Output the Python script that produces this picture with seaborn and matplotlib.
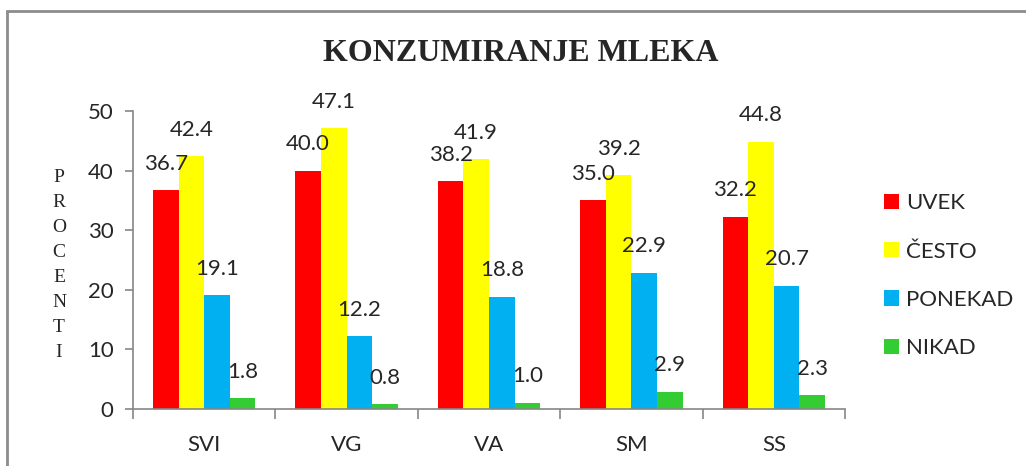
import numpy as np
import pandas as pd
import matplotlib
matplotlib.use("Agg")
import matplotlib.pyplot as plt
import seaborn as sns
from matplotlib.patches import Rectangle

# podaci
grupe = ["SVI", "VG", "VA", "SM", "SS"]
odgovori = ["UVEK", "ČESTO", "PONEKAD", "NIKAD"]
uvek = [36.7, 40.0, 38.2, 35.0, 32.2]
cesto = [42.4, 47.1, 41.9, 39.2, 44.8]
ponekad = [19.1, 12.2, 18.8, 22.9, 20.7]
nikad = [1.8, 0.8, 1.0, 2.9, 2.3]
boje = ["#FF0000", "#FFFF00", "#00B0F0", "#33CC33"]

df = pd.DataFrame({
    "grupa": grupe * 4,
    "odgovor": np.repeat(odgovori, len(grupe)),
    "procenat": uvek + cesto + ponekad + nikad,
})

sns.set_style("white")
plt.rcParams["font.family"] = ["Lato", "DejaVu Sans"]

fig = plt.figure(figsize=(10.26, 4.66), dpi=100)
ax = fig.add_axes([0.1296, 0.1223, 0.694, 0.6395])

sns.barplot(data=df, x="grupa", y="procenat", hue="odgovor", order=grupe,
            hue_order=odgovori, palette=boje, width=0.72, gap=0,
            saturation=1, linewidth=0, ax=ax)

for c in ax.containers:
    ax.bar_label(c, fmt="%.1f", padding=12, fontsize=16)

ax.set_xlim(-0.5, 4.5)
ax.set_ylim(0, 50)
ax.set_yticks(range(0, 51, 10))
ax.set_xlabel("")
ax.set_ylabel("")

siva = "#868686"
for s in ["top", "right"]:
    ax.spines[s].set_visible(False)
for s in ["left", "bottom"]:
    ax.spines[s].set_color(siva)
    ax.spines[s].set_linewidth(1.2)

ax.tick_params(axis="y", length=6, width=1.2, color=siva, labelsize=16, pad=8, left=True)
ax.tick_params(axis="x", which="major", length=0, labelsize=16, pad=19)
ax.set_xticks(np.arange(-0.5, 5, 1), minor=True)
ax.tick_params(axis="x", which="minor", length=7, width=1.2, color=siva, bottom=True)

ax.legend(loc="upper left", bbox_to_anchor=(884 / 1026, 0.585),
          bbox_transform=fig.transFigure, frameon=False, fontsize=16,
          handlelength=0.68, handleheight=0.68, handletextpad=0.33,
          labelspacing=1.27, borderpad=0, borderaxespad=0)

fig.text(521 / 1026, 0.886, "KONZUMIRANJE MLEKA", ha="center", va="center",
         fontsize=23, fontweight="bold", family="Liberation Serif")
fig.text(59 / 1026, 0.431, "\n".join("PROCENTI"), ha="center", va="center",
         fontsize=14, family="Liberation Serif", linespacing=1.62)

fig.patches.append(Rectangle((7 / 1026, -0.1), 2, (466 - 11) / 466 + 0.1,
                             transform=fig.transFigure, fill=False,
                             edgecolor="#8C8C8C", linewidth=2))

fig.savefig("out.png", dpi=100)
